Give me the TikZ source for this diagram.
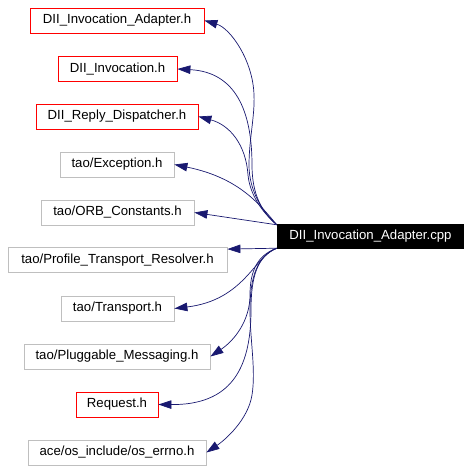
\documentclass[tikz,border=0pt]{standalone}
\usepackage{fontspec}
\setmainfont{Liberation Sans}
\usetikzlibrary{arrows.meta}
\definecolor{edgeblue}{HTML}{191970}
\definecolor{boxgray}{HTML}{BFBFBF}
\tikzset{
  hbox/.style={draw=boxgray, line width=0.8pt, inner sep=0pt, minimum height=25pt,
    font=\fontsize{13.2}{15}\selectfont},
  redbox/.style={hbox, draw=red},
  mainbox/.style={fill=black, text=white, inner sep=0pt, minimum height=25pt,
    font=\fontsize{13.2}{15}\selectfont},
  edge/.style={draw=edgeblue, line width=0.7pt, -{Triangle[length=13pt,width=8.5pt]}}
}
\begin{document}
\begin{tikzpicture}[x=1pt,y=-1pt]
\useasboundingbox (0,0) rectangle (471,471);
\node[redbox, minimum width=174pt] (n1) at (117,20.5) {DII\_Invocation\_Adapter.h};
\node[redbox, minimum width=119pt] (n2) at (117.5,69) {DII\_Invocation.h};
\node[redbox, minimum width=162pt] (n3) at (117,116.5) {DII\_Reply\_Dispatcher.h};
\node[hbox, minimum width=114pt] (n4) at (117,164.5) {tao/Exception.h};
\node[hbox, minimum width=153pt] (n5) at (117.5,212.5) {tao/ORB\_Constants.h};
\node[hbox, minimum width=219pt] (n6) at (117.5,260) {tao/Profile\_Transport\_Resolver.h};
\node[hbox, minimum width=113pt] (n7) at (117.5,308.5) {tao/Transport.h};
\node[hbox, minimum width=186pt] (n8) at (117,356.5) {tao/Pluggable\_Messaging.h};
\node[redbox, minimum width=82pt] (n9) at (117,404.5) {Request.h};
\node[hbox, minimum width=178pt] (n10) at (117,452.5) {ace/os\_include/os\_errno.h};
\node[mainbox, minimum width=187pt] (m) at (370.5,236.5) {DII\_Invocation\_Adapter.cpp};
\coordinate (mt) at ([yshift=-1pt]m.north west);
\coordinate (mb) at ([yshift=1pt]m.south west);

\draw[edge] (mt) .. controls (262,212) and (249,190) .. (249,165)
  .. controls (249,140) and (255,115) .. (254,95)
  .. controls (253,60) and (230,28) .. (n1.east);
\draw[edge] (mt) .. controls (262,212) and (252,195) .. (252,165)
  .. controls (252,110) and (235,72) .. (n2.east);
\draw[edge] (mt) .. controls (262,212) and (250,195) .. (248,175)
  .. controls (246,145) and (230,125) .. (n3.east);
\draw[edge] (mt) .. controls (260,205) and (240,178) .. (n4.east);
\draw[edge] (mt) -- (n5.east);
\draw[edge] (mb) -- ([yshift=-2pt]n6.north east);
\draw[edge] (mb) .. controls (255,255) and (245,300) .. (n7.east);
\draw[edge] (mb) .. controls (258,255) and (250,270) .. (250,295)
  .. controls (250,320) and (235,340) .. (n8.east);
\draw[edge] (mb) .. controls (258,256) and (251,275) .. (251,310)
  .. controls (251,370) and (230,405) .. (n9.east);
\draw[edge] (mb) .. controls (258,256) and (250,275) .. (250,310)
  .. controls (250,340) and (256,370) .. (252,395)
  .. controls (248,420) and (225,440) .. (n10.east);
\end{tikzpicture}
\end{document}
